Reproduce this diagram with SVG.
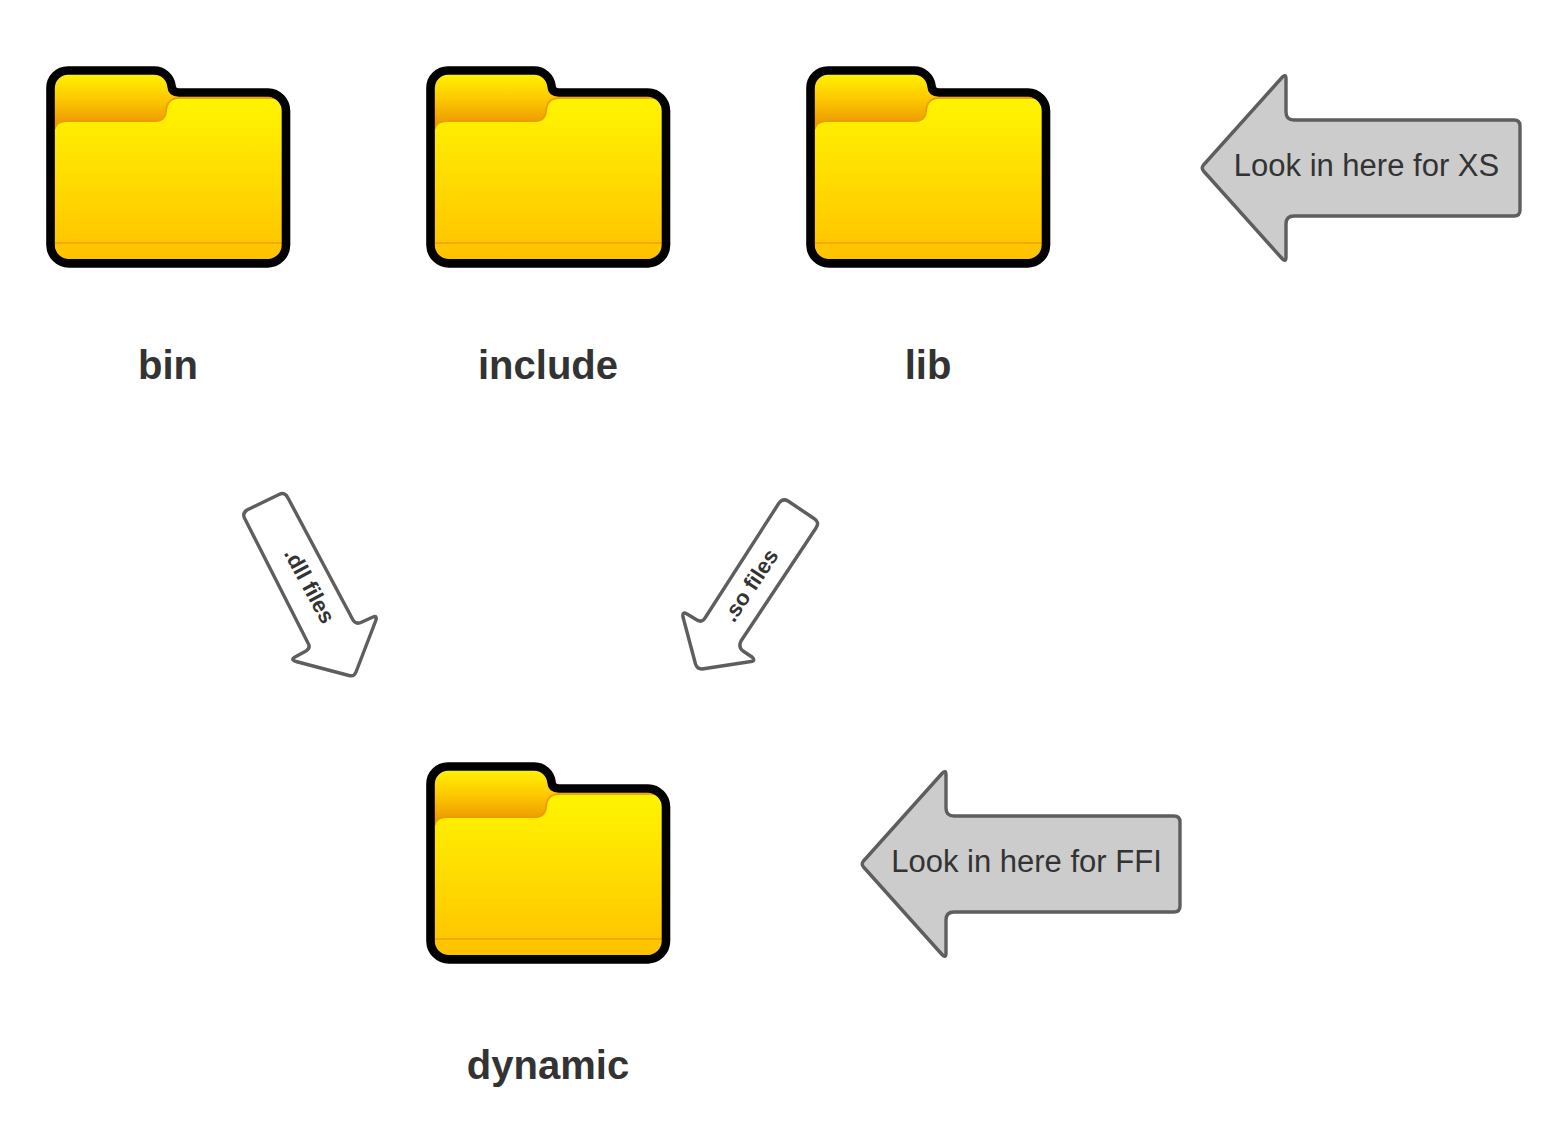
<svg xmlns="http://www.w3.org/2000/svg" xmlns:xlink="http://www.w3.org/1999/xlink" width="1560" height="1140" viewBox="0 0 1560 1140">
<style>
text{font-family:"Liberation Sans",Arial,sans-serif;fill:#333333;text-anchor:middle}
.name{font-size:40px;font-weight:700}
.note{font-size:31px}
.small{font-size:22px;font-weight:700}
.big{fill:#cccccc;stroke:#5e5e5e;stroke-width:3.4;stroke-linejoin:round}
.thin{fill:#ffffff;stroke:#5e5e5e;stroke-width:3.4;stroke-linejoin:round}
</style>
<defs>
<linearGradient id="tabG" gradientUnits="userSpaceOnUse" x1="0" y1="75" x2="0" y2="124"><stop offset="0" stop-color="#fff000"/><stop offset="0.5" stop-color="#fcc800"/><stop offset="1" stop-color="#ec9800"/></linearGradient>
<linearGradient id="bodyG" gradientUnits="userSpaceOnUse" x1="0" y1="98" x2="0" y2="259"><stop offset="0" stop-color="#fff500"/><stop offset="1" stop-color="#ffc200"/></linearGradient>
<g id="folder">
<path d="M50.5 88A17.5 17.5 0 0 1 68 70.5H154A17.5 17.5 0 0 1 171.5 86Q172 92.5 179 92.5H268A18.5 18.5 0 0 1 286 111V245A18.5 18.5 0 0 1 268 263.400H69A18.5 18.5 0 0 1 50.5 245Z" fill="url(#tabG)"/>
<path d="M55 130Q56 122 67 122H155Q166 122 167 111Q168 99 179 99H272Q282 99 282 109V249Q282 259 272 259H65Q55 259 55 249Z" fill="url(#bodyG)"/>
<path d="M55 129Q56 121 67 121H155Q165 121 166 111Q167 98 179 98H272Q280 98 282 106" fill="none" stroke="#ec9c00" stroke-width="1.5"/>
<path d="M55 243H282" fill="none" stroke="#f0a000" stroke-width="1.5"/>
<path d="M50.5 88A17.5 17.5 0 0 1 68 70.5H154A17.5 17.5 0 0 1 171.5 86Q172 92.5 179 92.5H268A18.5 18.5 0 0 1 286 111V245A18.5 18.5 0 0 1 268 263.400H69A18.5 18.5 0 0 1 50.5 245Z" fill="none" stroke="#000000" stroke-width="8.600" stroke-linejoin="round"/>
</g>
<path id="bigArrow" class="big" d="M1203.500 165L1282 77.500Q1286 73 1286 79V112Q1286 120 1294 120H1514Q1520 120 1520 126V210Q1520 216 1514 216H1294Q1286 216 1286 224V257Q1286 263 1282 258.500L1203.500 171Q1201 168 1203.500 165Z"/>
</defs>
<g id="node-bin"><use href="#folder"/><text class="name" x="168" y="379">bin</text></g>
<g id="node-include"><use href="#folder" x="380"/><text class="name" x="548" y="379">include</text></g>
<g id="node-lib"><use href="#folder" x="760"/><text class="name" x="928" y="379">lib</text></g>
<g id="node-dynamic"><use href="#folder" x="380" y="696"/><text class="name" x="548" y="1079">dynamic</text></g>
<g id="note-xs"><use href="#bigArrow"/><text class="note" x="1366.500" y="176">Look in here for XS</text></g>
<g id="note-ffi"><use href="#bigArrow" x="-340" y="696"/><text class="note" x="1026.500" y="872">Look in here for FFI</text></g>
<g id="connectors">
<g id="arrow-dll"><path class="thin" d="M246 521Q241 514 247 510L279 494.500Q285 491.500 288 498L353 620Q356 625 362 622L373 617Q377 615 376 620L356 672Q354 677 349 675.500L296 661.500Q290 659.500 295 657L306 651Q311 648 308 643Z"/><text class="small" transform="translate(310 585.500) rotate(61.500)" y="8">.dll files</text></g>
<g id="arrow-so"><path class="thin" d="M779 503Q783 498 788 501L814 518.500Q820 522 816 528L741 641Q738 647 743 651L752 657Q756 661 751 661.500L702 669Q697 669 695.500 664L683 617Q682 611 687 614L697 620Q702 623 705 618Z"/><text class="small" transform="translate(750 585) rotate(-56.300)" y="8">.so files</text></g>
</g>
</svg>
